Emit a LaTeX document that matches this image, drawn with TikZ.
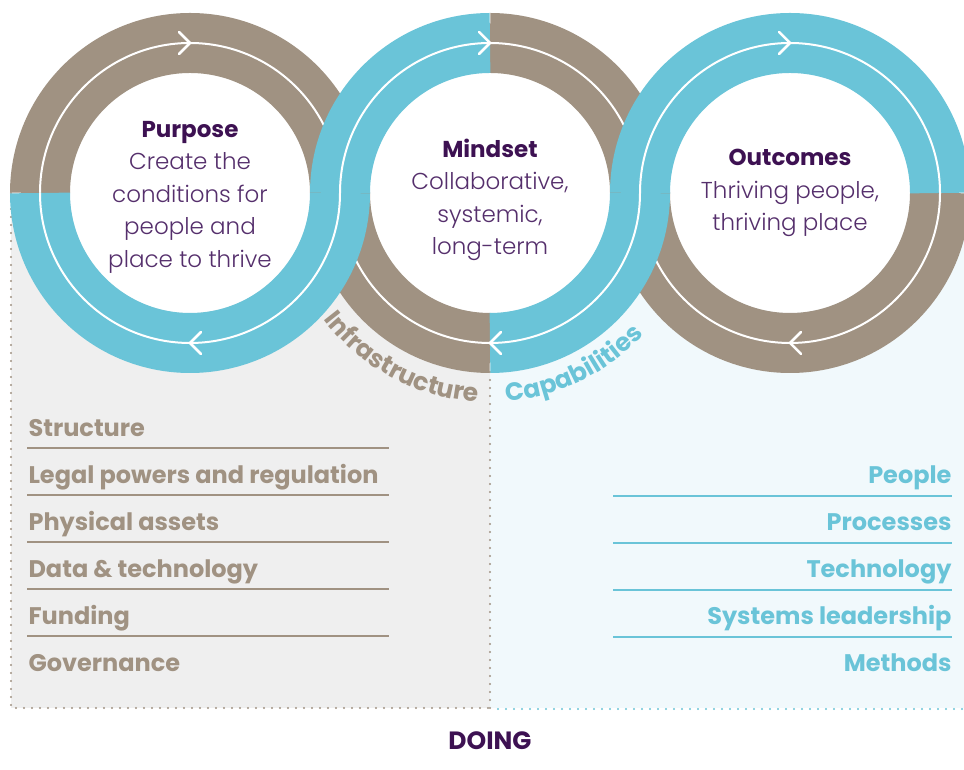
\documentclass[tikz,border=0pt]{standalone}
\usepackage{fontspec}
\setmainfont{Poppins}
\newfontfamily\lightfont{Poppins Light}
\usetikzlibrary{decorations.text}

\definecolor{taupe}{HTML}{A09282}
\definecolor{sky}{HTML}{6AC4D8}
\definecolor{plum}{HTML}{3D1152}
\definecolor{plumlight}{HTML}{552F6C}
\definecolor{panelgrey}{HTML}{EFEFEF}
\definecolor{panelsky}{HTML}{F1F9FC}

\begin{document}
\begin{tikzpicture}[x=1pt,y=1pt,
                band/.style={line width=60pt,postaction={draw=white,line width=2pt}},
                chevron/.style={white,line width=2.5pt,line cap=round,line join=round},
                circle text/.style={align=center,text=plumlight,font=\lightfont\fontsize{23}{32.5}\selectfont},
                infra item/.style={anchor=base west,text=taupe,font=\bfseries\fontsize{24}{28}\selectfont},
                capa item/.style={anchor=base east,text=sky,font=\bfseries\fontsize{24}{28}\selectfont},
                dots/.style={line width=2.2pt,line cap=round,dash pattern=on 0pt off 8pt},
                ]
                \useasboundingbox (0,0) rectangle (964,770);
                \def\R{150pt}
                \coordinate (P) at (190,577);
                \coordinate (M) at (490,577);
                \coordinate (O) at (790,577);

                % the two panels under the loops
                \fill[panelgrey] (11,577) rectangle (490,62);
                \fill[panelsky] (490,577) rectangle (964,62);
                \draw[dots,taupe] (11,577) -- (11,62) -- (490,62);
                \draw[dots,taupe] (490,398) -- (490,62);
                \draw[dots,sky] (498,61) -- (964,61);

                \fill[white] (P) circle (120pt);
                \fill[white] (M) circle (120pt);
                \fill[white] (O) circle (120pt);

                % taupe half loops first, the blue ones go over them
                \draw[band,taupe] (P) ++(180:\R) arc[start angle=180,end angle=0,radius=\R];
                \draw[band,taupe] (M) ++(180:\R) arc[start angle=180,end angle=270,radius=\R];
                \draw[band,taupe] (M) ++(0:\R) arc[start angle=0,end angle=90,radius=\R];
                \draw[band,taupe] (O) ++(180:\R) arc[start angle=180,end angle=360,radius=\R];

                \draw[band,sky] (P) ++(180:\R) arc[start angle=180,end angle=360,radius=\R];
                \draw[band,sky] (M) ++(90:\R) arc[start angle=90,end angle=180,radius=\R];
                \draw[band,sky] (M) ++(270:\R) arc[start angle=270,end angle=360,radius=\R];
                \draw[band,sky] (O) ++(0:\R) arc[start angle=0,end angle=180,radius=\R];

                % arrow heads on the white line
                \draw[chevron] (P) ++(-11,161) -- ++(11,-11) -- ++(-11,-11);
                \draw[chevron] (M) ++(-11,161) -- ++(11,-11) -- ++(-11,-11);
                \draw[chevron] (O) ++(-11,161) -- ++(11,-11) -- ++(-11,-11);
                \draw[chevron] (P) ++(11,-139) -- ++(-11,-11) -- ++(11,-11);
                \draw[chevron] (M) ++(11,-139) -- ++(-11,-11) -- ++(11,-11);
                \draw[chevron] (O) ++(11,-139) -- ++(-11,-11) -- ++(11,-11);

                \node[circle text] (purpose) at (190,573) {{\normalfont\bfseries\color{plum}Purpose}\\Create the\\conditions for\\people and\\place to thrive};
                \node[circle text] (mindset) at (490,570) {{\normalfont\bfseries\color{plum}Mindset}\\Collaborative,\\systemic,\\long-term};
                \node[circle text] (outcomes) at (790,577) {{\normalfont\bfseries\color{plum}Outcomes}\\Thriving people,\\thriving place};

                % labels bent round the middle loop
                \path[decorate,decoration={text along path,text align=center,
                    text={|\bfseries\fontsize{25}{25}\selectfont\color{taupe}|Infrastructure}}]
                    (M) ++(200:209pt) arc[start angle=200,end angle=284,radius=209pt];
                \path[decorate,decoration={text along path,text align=center,
                    text={|\bfseries\fontsize{25}{25}\selectfont\color{sky}|Capabilities}}]
                    (M) ++(256:209pt) arc[start angle=256,end angle=336,radius=209pt];

                \node[infra item] (structure) at (25,333) {Structure};
                \node[infra item] (legal) at (25,286) {Legal powers and regulation};
                \node[infra item] (physical) at (25,239) {Physical assets};
                \node[infra item] (data) at (25,192) {Data \& technology};
                \node[infra item] (funding) at (25,145) {Funding};
                \node[infra item] (governance) at (25,98) {Governance};
                \draw[taupe,line width=1.5pt] (27,322) -- (389,322);
                \draw[taupe,line width=1.5pt] (27,275) -- (389,275);
                \draw[taupe,line width=1.5pt] (27,228) -- (389,228);
                \draw[taupe,line width=1.5pt] (27,181) -- (389,181);
                \draw[taupe,line width=1.5pt] (27,134) -- (389,134);

                \node[capa item] (people) at (955,286) {People};
                \node[capa item] (processes) at (955,239) {Processes};
                \node[capa item] (technology) at (955,192) {Technology};
                \node[capa item] (leadership) at (955,145) {Systems leadership};
                \node[capa item] (methods) at (955,98) {Methods};
                \draw[sky,line width=1.5pt] (613,274) -- (952,274);
                \draw[sky,line width=1.5pt] (613,227) -- (952,227);
                \draw[sky,line width=1.5pt] (613,180) -- (952,180);
                \draw[sky,line width=1.5pt] (613,133) -- (952,133);

                \node[anchor=base,text=plum,font=\bfseries\fontsize{25}{28}\selectfont] (doing) at (490,20) {DOING};
            \end{tikzpicture}
\end{document}
